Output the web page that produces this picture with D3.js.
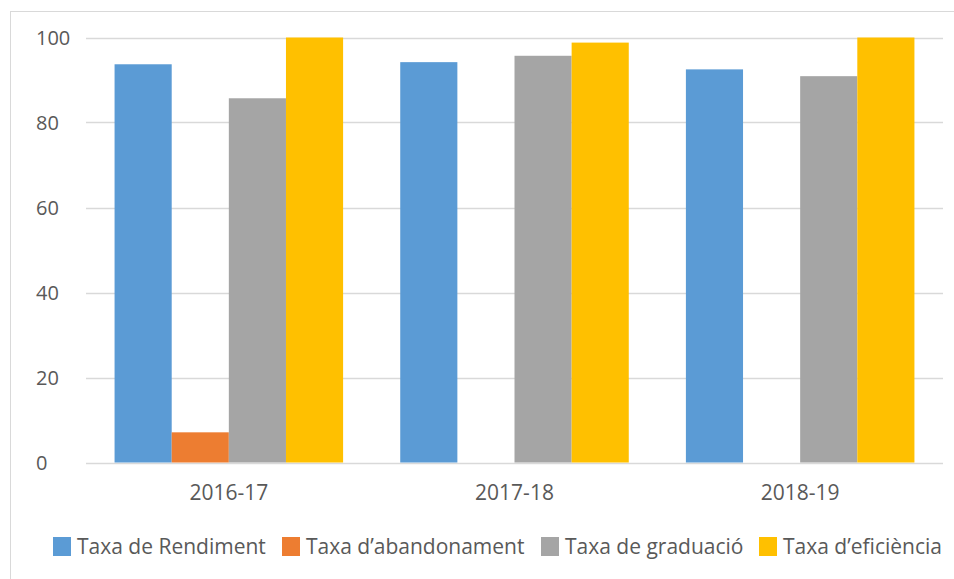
<!DOCTYPE html>
<html>
<head>
<meta charset="utf-8">
<script src="https://cdn.jsdelivr.net/npm/d3@7"></script>
<style>
  html, body { margin: 0; padding: 0; background: #fff; }
  svg { display: block; }
  text { font-family: "Open Sans", sans-serif; fill: #595959; }
</style>
</head>
<body>
<svg id="chart" width="954" height="579"></svg>
<script>
const categories = ["2016-17", "2017-18", "2018-19"];
const seriesNames = ["Taxa de Rendiment", "Taxa d\u2019abandonament", "Taxa de graduació", "Taxa d\u2019eficiència"];
const rendiment   = [93.7, 94.2, 92.5];
const abandonament = [7.1, 0, 0];
const graduacio   = [85.7, 95.7, 90.9];
const eficiencia  = [100, 98.8, 100];
const yTicks = [0, 20, 40, 60, 80, 100];
const colors = ["#5B9BD5", "#ED7D31", "#A5A5A5", "#FFC000"];

const seriesValues = [rendiment, abandonament, graduacio, eficiencia];

const svg = d3.select("#chart");
const W = 954, H = 579;
const plot = { left: 86, right: 943, top: 37.5, bottom: 462.5 };
const fontSize = 21;

// chart area border
svg.append("rect")
  .attr("x", 10.5).attr("y", 11.5)
  .attr("width", W + 10).attr("height", H + 10)
  .attr("fill", "none").attr("stroke", "#D9D9D9").attr("stroke-width", 1);

const y = d3.scaleLinear().domain([0, 100]).range([plot.bottom, plot.top]);
const x0 = d3.scaleBand().domain(categories).range([plot.left, plot.right])
  .paddingInner(0.2).paddingOuter(0.1);
const x1 = d3.scaleBand().domain(d3.range(seriesNames.length)).range([0, x0.bandwidth()]);

// gridlines
svg.append("g").selectAll("line").data(yTicks).join("line")
  .attr("x1", plot.left).attr("x2", plot.right)
  .attr("y1", d => Math.round(y(d)) + 0.5).attr("y2", d => Math.round(y(d)) + 0.5)
  .attr("stroke", "#D9D9D9").attr("stroke-width", 1.3);

// y labels
svg.append("g").selectAll("text").data(yTicks).join("text")
  .attr("x", 36).attr("y", d => y(d))
  .attr("dy", "0.35em")
  .attr("font-size", 20)
  .text(d => d);

// bars
const groups = svg.append("g").selectAll("g").data(categories).join("g")
  .attr("transform", c => `translate(${x0(c)},0)`);
groups.selectAll("rect")
  .data((c, ci) => seriesValues.map((vals, si) => ({ si, v: vals[ci] })))
  .join("rect")
  .attr("x", d => x1(d.si))
  .attr("width", x1.bandwidth())
  .attr("y", d => y(d.v))
  .attr("height", d => y(0) - y(d.v))
  .attr("fill", d => colors[d.si]);

// x labels
svg.append("g").selectAll("text").data(categories).join("text")
  .attr("x", c => x0(c) + x0.bandwidth() / 2)
  .attr("y", 500)
  .attr("text-anchor", "middle")
  .attr("font-size", fontSize)
  .text(c => c);

// legend
const legendX = [53, 282, 541, 759];
const leg = svg.append("g").selectAll("g").data(seriesNames).join("g")
  .attr("transform", (d, i) => `translate(${legendX[i]},537)`);
leg.append("rect").attr("width", 18).attr("height", 19).attr("fill", (d, i) => colors[i]);
leg.append("text").attr("x", 24).attr("y", 10).attr("dy", "0.35em")
  .attr("font-size", fontSize).text(d => d);
</script>
</body>
</html>
